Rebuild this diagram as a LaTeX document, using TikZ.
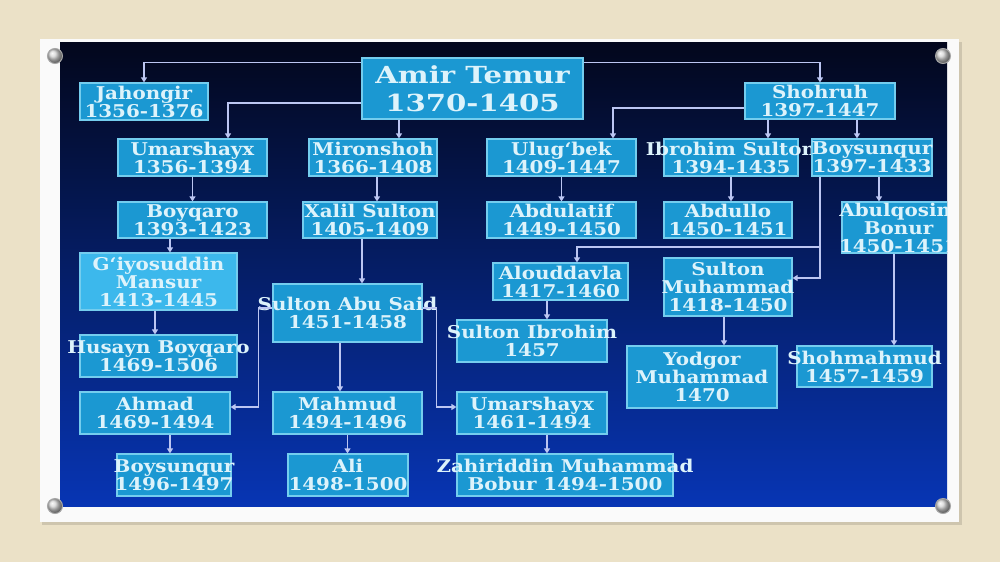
\documentclass[tikz,border=0pt]{standalone}
\usepackage{fontspec}
\usetikzlibrary{arrows.meta}
\newfontfamily\boxfont[FakeStretch=1.13]{DejaVu Serif}
\newfontfamily\amirfont[FakeStretch=1.24]{DejaVu Serif}
\definecolor{beige}{HTML}{EBE1C7}
\definecolor{cardwhite}{HTML}{FAFAFA}
\definecolor{paneltop}{HTML}{03071C}
\definecolor{panelmid}{HTML}{0A2488}
\definecolor{panelbot}{HTML}{0735B4}
\definecolor{boxfill}{HTML}{1B98D2}
\definecolor{giyfill}{HTML}{3CB8EC}
\definecolor{boxline}{HTML}{74CDEE}
\definecolor{txtcol}{HTML}{DDF3FB}
\definecolor{linecol}{HTML}{BCC6F2}
\tikzset{
  pbox/.style={draw=boxline, fill=boxfill, line width=1.2pt, inner sep=0pt},
  ptxt/.style={text=txtcol, align=center, inner sep=0pt, font=\boxfont\bfseries\fontsize{17.6}{18}\selectfont},
  conn/.style={draw=linecol, line width=1.3pt, -{Triangle[width=6pt,length=5pt]}},
  pin/.style={circle, inner sep=0pt, minimum size=15pt, draw=gray!70, line width=1pt, shade, ball color=gray!35},
}
\newcommand\mkbox[7][]{%
  \node[pbox, #1, minimum width=#5pt, minimum height=#6pt] (#2) at (#3,#4) {};
  \node[ptxt] at (#2.center) {#7};}
\begin{document}
\begin{tikzpicture}[x=1pt, y=-1pt]
\useasboundingbox (0,0) rectangle (1000,562);
\fill[beige] (0,0) rectangle (1000,562);
% card
\fill[black, opacity=0.12] (42,42) rectangle (962,525);
\fill[cardwhite] (40,39) rectangle (959,522);
% panel
\shade[top color=paneltop, middle color=panelmid, bottom color=panelbot] (60,42) rectangle (947,506);
\begin{scope}
\clip (60,42) rectangle (947,506);
% boxes
\mkbox{amir}{472.5}{88.5}{221}{61}{}
\node[ptxt, font=\amirfont\bfseries\fontsize{23.5}{28}\selectfont] at (amir.center) {Amir Temur\\1370-1405};
\mkbox{jah}{144}{101.5}{128}{37}{Jahongir\\1356-1376}
\mkbox{umarA}{192.5}{157.5}{149}{37}{Umarshayx\\1356-1394}
\mkbox{miron}{373}{157.5}{128}{37}{Mironshoh\\1366-1408}
\mkbox{boyq}{192.5}{220}{149}{36}{Boyqaro\\1393-1423}
\mkbox{xalil}{370}{220}{134}{36}{Xalil Sulton\\1405-1409}
\mkbox[fill=giyfill]{giyos}{158.5}{281.5}{157}{57}{G‘iyosuddin\\Mansur\\1413-1445}
\mkbox{husayn}{158.5}{356}{157}{42}{Husayn Boyqaro\\1469-1506}
\mkbox{ahmad}{155}{413}{150}{42}{Ahmad\\1469-1494}
\mkbox{boysB}{174}{475}{114}{42}{Boysunqur\\1496-1497}
\mkbox{abusaid}{347.5}{313}{149}{58}{Sulton Abu Said\\1451-1458}
\mkbox{mahmud}{347.5}{413}{149}{42}{Mahmud\\1494-1496}
\mkbox{ali}{348}{475}{120}{42}{Ali\\1498-1500}
\mkbox{shohruh}{820}{101}{150}{36}{Shohruh\\1397-1447}
\mkbox{ulug}{561.5}{157.5}{149}{37}{Ulug‘bek\\1409-1447}
\mkbox{ibrohim}{731}{157.5}{134}{37}{Ibrohim Sulton\\1394-1435}
\mkbox{boysA}{872}{157.5}{120}{37}{Boysunqur\\1397-1433}
\mkbox{abdulatif}{561.5}{220}{149}{36}{Abdulatif\\1449-1450}
\mkbox{abdullo}{728}{220}{128}{36}{Abdullo\\1450-1451}
\mkbox{abulq}{898.5}{227.5}{113}{51}{Abulqosim\\Bonur\\1450-1451}
\mkbox{alou}{560.5}{281.5}{135}{37}{Alouddavla\\1417-1460}
\mkbox{sultmuh}{728}{287}{128}{58}{Sulton\\Muhammad\\1418-1450}
\mkbox{sultib}{532}{341}{150}{42}{Sulton Ibrohim\\1457}
\mkbox{yodgor}{702}{377}{150}{62}{Yodgor\\Muhammad\\1470}
\mkbox{shohm}{864.5}{366.5}{135}{41}{Shohmahmud\\1457-1459}
\mkbox{umarB}{532}{413}{150}{42}{Umarshayx\\1461-1494}
\mkbox{bobur}{565}{475}{216}{42}{Zahiriddin Muhammad\\Bobur 1494-1500}
% connectors
\draw[conn] ([yshift=-5pt]amir.north west) -| (jah.north);
\draw[conn] ([yshift=-14.5pt]amir.west) -| ([xshift=35.5pt]umarA.north);
\draw[conn] ([xshift=-73.5pt]amir.south) -- ([xshift=26pt]miron.north);
\draw[conn] ([yshift=-5pt]amir.north east) -| (shohruh.north);
\draw[conn] ([yshift=-7pt]shohruh.west) -| ([xshift=51.5pt]ulug.north);
\draw[conn] ([xshift=-52pt]shohruh.south) -- ([xshift=37pt]ibrohim.north);
\draw[conn] ([xshift=37pt]shohruh.south) -- ([xshift=-15pt]boysA.north);
\draw[conn] (umarA.south) -- (boyq.north);
\draw[conn] ([xshift=4pt]miron.south) -- ([xshift=7pt]xalil.north);
\draw[conn] ([xshift=-22.5pt]boyq.south) -- ([xshift=11.5pt]giyos.north);
\draw[conn] ([xshift=-8pt]xalil.south) -- ([xshift=14.5pt]abusaid.north);
\draw[conn] ([xshift=-3.5pt]giyos.south) -- ([xshift=-3.5pt]husayn.north);
\draw[conn] ([yshift=5pt]abusaid.west) -- ++(-14,0) |- ([yshift=6pt]ahmad.east);
\draw[conn] ([yshift=5pt]abusaid.east) -- ++(14,0) |- ([yshift=6pt]umarB.west);
\draw[conn] ([xshift=-7.5pt]abusaid.south) -- ([xshift=-7.5pt]mahmud.north);
\draw[conn] ([xshift=15pt]ahmad.south) -- ([xshift=-4pt]boysB.north);
\draw[conn] (mahmud.south) -- (mahmud.south |- ali.north);
\draw[conn] ([xshift=15pt]umarB.south) -- ([xshift=-18pt]bobur.north);
\draw[conn] (ulug.south) -- (abdulatif.north);
\draw[conn] (ibrohim.south) -- (ibrohim.south |- abdullo.north);
\draw[conn] ([xshift=7pt]boysA.south) -- ([xshift=-19.5pt]abulq.north);
\coordinate (j1) at (820,247);
\draw[conn] ([xshift=-52pt]boysA.south) -- (j1) -| ([xshift=16.5pt]alou.north);
\draw[conn] (j1) |- ([yshift=9pt]sultmuh.east);
\draw[conn] ([xshift=-4.5pt]abulq.south) -- ([xshift=29.5pt]shohm.north);
\draw[conn] ([xshift=-13.5pt]alou.south) -- ([xshift=15pt]sultib.north);
\draw[conn] ([xshift=-4pt]sultmuh.south) -- ([xshift=22pt]yodgor.north);
\end{scope}
% pins
\node[pin] (p1) at (55,56) {};
\node[pin] (p2) at (943,56) {};
\node[pin] (p3) at (55,506) {};
\node[pin] (p4) at (943,506) {};
\end{tikzpicture}
\end{document}
